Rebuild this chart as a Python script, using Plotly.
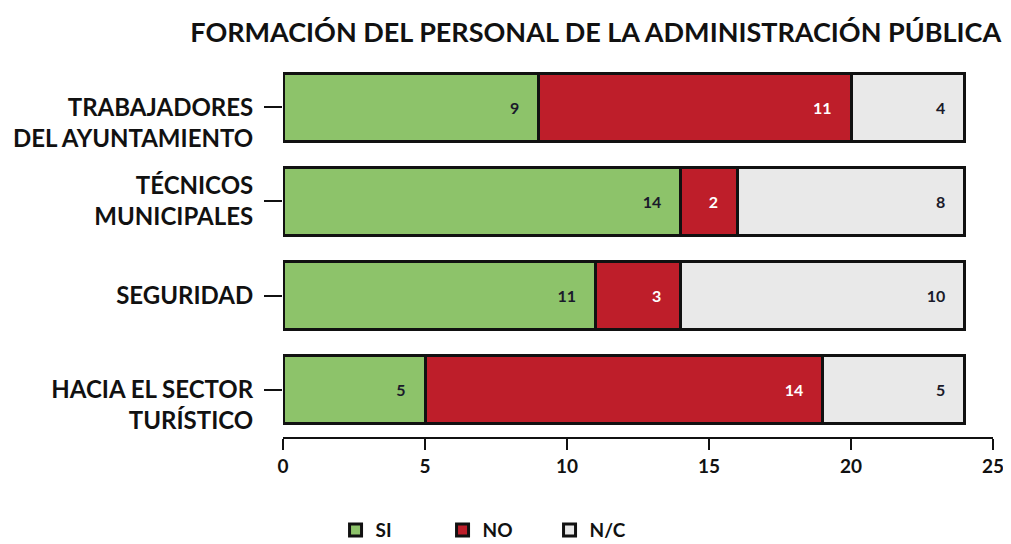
import plotly.graph_objects as go

categories = ["TRABAJADORES DEL AYUNTAMIENTO", "TÉCNICOS MUNICIPALES", "SEGURIDAD", "HACIA EL SECTOR TURÍSTICO"]
tick_labels = ["\u00a0<br>TRABAJADORES<br>DEL AYUNTAMIENTO", "TÉCNICOS<br>MUNICIPALES", "SEGURIDAD",
               "\u00a0<br>HACIA EL SECTOR<br>TURÍSTICO"]
si = [9, 14, 11, 5]
no = [11, 2, 3, 14]
nc = [4, 8, 10, 5]
series_names = ["SI", "NO", "N/C"]
colors = ["#8dc36a", "#be1e2a", "#e9e9e9"]
text_colors = ["#1a1a2a", "#ffffff", "#1a1a2a"]
x_ticks = [0, 5, 10, 15, 20, 25]

FONT = "Lato"
pad = "\u00a0" * 4

fig = go.Figure()
for name, vals, col, tcol in zip(series_names, [si, no, nc], colors, text_colors):
    fig.add_trace(go.Bar(
        y=categories, x=vals, name=f"<b>{name}</b>", orientation="h",
        marker=dict(color=col, line=dict(color="#111111", width=3)),
        text=[f"<b>{v}</b>{pad}" for v in vals],
        textposition="inside", insidetextanchor="end",
        textfont=dict(color=tcol, size=16, family=FONT),
        width=0.72,
    ))

fig.update_layout(
    barmode="stack",
    width=1003, height=536,
    margin=dict(l=275, r=18, t=52, b=107, autoexpand=False),
    paper_bgcolor="white", plot_bgcolor="white",
    title=dict(text="<b>FORMACIÓN DEL PERSONAL DE LA ADMINISTRACIÓN PÚBLICA</b>",
               x=0.586, xanchor="center", y=0.955, yanchor="middle",
               font=dict(family=FONT, size=27, color="#111111")),
    font=dict(family=FONT, color="#111111"),
    showlegend=True,
    legend=dict(orientation="h", x=0.074, xanchor="left", y=-0.247, yanchor="middle",
                font=dict(family=FONT, size=19, color="#111111"),
                entrywidth=62, entrywidthmode="pixels",
                itemwidth=30, traceorder="normal"),
    uniformtext=dict(mode=False),
)
fig.update_xaxes(range=[0, 25], tickvals=x_ticks, ticktext=[f"<b>{t}</b>" for t in x_ticks],
                 showgrid=False, zeroline=False, showline=True, linecolor="#111111", linewidth=2,
                 ticks="outside", ticklen=11, tickwidth=2, tickcolor="#111111",
                 tickfont=dict(family=FONT, size=19, color="#111111"))
fig.update_yaxes(autorange="reversed", showgrid=False, zeroline=False, showline=False,
                 ticks="outside", ticklen=18, tickwidth=2, tickcolor="#111111",
                 ticklabelstandoff=6,
                 tickvals=categories, ticktext=[f"<b>{c}</b>" for c in tick_labels],
                 tickfont=dict(family=FONT, size=24, color="#111111"))

fig.write_html("out.html")
